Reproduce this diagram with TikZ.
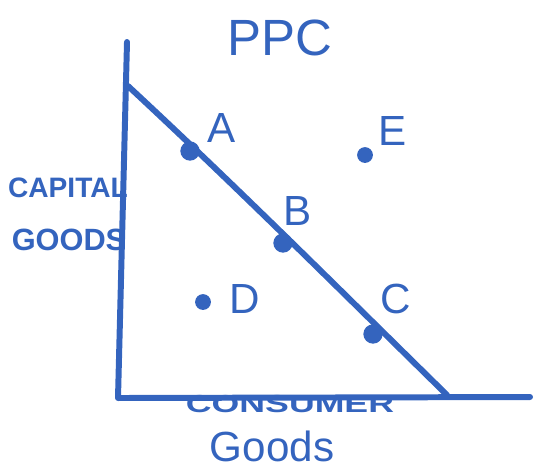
\documentclass[tikz,border=0pt]{standalone}
\usepackage{fontspec}
\setmainfont{Liberation Sans}
\usepackage{tikz}
\usetikzlibrary{positioning}
\definecolor{penblue}{RGB}{52,100,190}

\begin{document}
\begin{tikzpicture}[
  x=0.02cm, y=-0.02cm,
  pen/.style={penblue, line width=3.4pt, line cap=round, line join=round},
  dot/.style={circle, fill=penblue, inner sep=0pt, minimum size=11pt},
  lbl/.style={text=penblue, font=\fontsize{24}{24}\selectfont},
  axislbl/.style={text=penblue, inner sep=0pt, font=\fontsize{16}{16}\selectfont\bfseries}
]
\useasboundingbox (0,0) rectangle (536,474);

% Axes
\coordinate (ytop) at (127,42);
\coordinate (origin) at (118,398);
\coordinate (xend) at (530,397);
\draw[pen] (ytop) -- (origin) -- (xend);

% Production possibility curve
\coordinate (ppc-start) at (128,86);
\coordinate (ppc-end) at (447,395);
\draw[pen] (ppc-start) .. controls (240,190) and (340,290) .. (ppc-end);

% Points on and off the curve
\node[dot] (pt-a) at (190,151) {};
\node[dot] (pt-b) at (283,243) {};
\node[dot] (pt-c) at (373,334) {};
\node[dot, minimum size=9pt] (pt-d) at (203,302) {};
\node[dot, minimum size=9pt] (pt-e) at (365,155) {};

% Point labels
\node[lbl] (lbl-a) at (222,128) {A};
\node[lbl] (lbl-b) at (298,211) {B};
\node[lbl] (lbl-c) at (396,299) {C};
\node[lbl] (lbl-d) at (245,299) {D};
\node[lbl] (lbl-e) at (393,131) {E};

% Titles
\node[text=penblue, font=\fontsize{29}{29}\selectfont] (title) at (280,38) {PPC};
\node[axislbl] (cap1) at (68,188) {CAPITAL};
\node[axislbl, font=\fontsize{17.5}{17.5}\selectfont\bfseries] (cap2) at (69,240) {GOODS};
\node[axislbl, font=\fontsize{14}{14}\selectfont\bfseries] (con1) at (290,404) {\scalebox{1.45}[1]{CONSUMER}};
\node[axislbl, font=\fontsize{24}{24}\selectfont] (con2) at (272,446) {Goods};
\end{tikzpicture}
\end{document}
